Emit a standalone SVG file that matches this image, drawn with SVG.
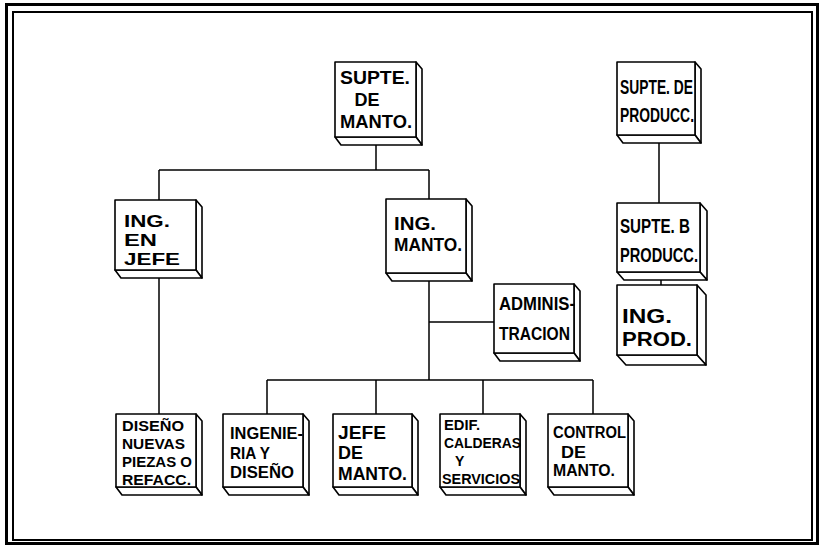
<svg xmlns="http://www.w3.org/2000/svg" width="822" height="546" viewBox="0 0 822 546">
<style>
.frame{fill:none;stroke:#000}
.f{fill:#fff;stroke:#000;stroke-width:1.6;stroke-linejoin:round}
.c{fill:none;stroke:#000;stroke-width:1.5}
text{font-family:"Liberation Sans",Arial,sans-serif;font-weight:bold;fill:#000}
</style>
<rect width="822" height="546" fill="#fff"/>
<rect class="frame" x="6.5" y="4.5" width="811" height="539" stroke-width="3"/>
<rect class="frame" x="13" y="12" width="799" height="528" stroke-width="2"/>

<g id="connectors">
<path class="c" d="M376,145 V170 M159,170 H429 M159,170 V200 M429,170 V199 M159,278 V414 M429,281 V380 M429,322 H494 M267,380 H593 M267,380 V414 M376,380 V414 M483,380 V414 M593,380 V414 M659,143 V203 M661,280 V285"/>
</g>

<g id="supte-manto">
<polygon class="f" points="416,62 422,69 422,145 416,137"/>
<polygon class="f" points="335,137 416,137 422,145 341,145"/>
<rect class="f" x="335" y="62" width="81" height="75"/>
<text x="375" y="84" font-size="18" text-anchor="middle" textLength="70" lengthAdjust="spacingAndGlyphs">SUPTE.</text>
<text x="367" y="106" font-size="18" text-anchor="middle">DE</text>
<text x="376" y="128" font-size="18" text-anchor="middle" textLength="72" lengthAdjust="spacingAndGlyphs">MANTO.</text>
</g>

<g id="supte-prod">
<polygon class="f" points="695,62 701,69 701,143 695,135"/>
<polygon class="f" points="617,135 695,135 701,143 623,143"/>
<rect class="f" x="617" y="62" width="78" height="73"/>
<text x="620" y="94" font-size="21" textLength="73" lengthAdjust="spacingAndGlyphs">SUPTE. DE</text>
<text x="620" y="122" font-size="21" textLength="74" lengthAdjust="spacingAndGlyphs">PRODUCC.</text>
</g>

<g id="ing-jefe">
<polygon class="f" points="196,200 202,207 202,278 196,270"/>
<polygon class="f" points="115,270 196,270 202,278 121,278"/>
<rect class="f" x="115" y="200" width="81" height="70"/>
<text x="124" y="227" font-size="17" textLength="46" lengthAdjust="spacingAndGlyphs">ING.</text>
<text x="124" y="246" font-size="17" textLength="33" lengthAdjust="spacingAndGlyphs">EN</text>
<text x="124" y="265" font-size="17" textLength="56" lengthAdjust="spacingAndGlyphs">JEFE</text>
</g>

<g id="ing-manto">
<polygon class="f" points="466,199 472,206 472,281 466,273"/>
<polygon class="f" points="386,273 466,273 472,281 392,281"/>
<rect class="f" x="386" y="199" width="80" height="74"/>
<text x="394" y="230" font-size="18" textLength="42" lengthAdjust="spacingAndGlyphs">ING.</text>
<text x="394" y="251" font-size="18" textLength="68" lengthAdjust="spacingAndGlyphs">MANTO.</text>
</g>

<g id="administracion">
<polygon class="f" points="574,284 580,291 580,361 574,353"/>
<polygon class="f" points="494,353 574,353 580,361 500,361"/>
<rect class="f" x="494" y="284" width="80" height="69"/>
<text x="499" y="310" font-size="19" textLength="76" lengthAdjust="spacingAndGlyphs">ADMINIS-</text>
<text x="499" y="340" font-size="19" textLength="71" lengthAdjust="spacingAndGlyphs">TRACION</text>
</g>

<g id="supte-b-prod">
<polygon class="f" points="700,203 707,211 707,280 700,272"/>
<polygon class="f" points="617,272 700,272 707,280 624,280"/>
<rect class="f" x="617" y="203" width="83" height="69"/>
<text x="620" y="233" font-size="21" textLength="70" lengthAdjust="spacingAndGlyphs">SUPTE. B</text>
<text x="620" y="262" font-size="21" textLength="78" lengthAdjust="spacingAndGlyphs">PRODUCC.</text>
</g>

<g id="ing-prod">
<polygon class="f" points="697,285 706,295 706,365 697,355"/>
<polygon class="f" points="617,355 697,355 706,365 626,365"/>
<rect class="f" x="617" y="285" width="80" height="70"/>
<text x="622" y="323" font-size="21" textLength="50" lengthAdjust="spacingAndGlyphs">ING.</text>
<text x="622" y="346" font-size="21" textLength="70" lengthAdjust="spacingAndGlyphs">PROD.</text>
</g>

<g id="diseno">
<polygon class="f" points="196,414 202,421 202,495 196,487"/>
<polygon class="f" points="116,487 196,487 202,495 122,495"/>
<rect class="f" x="116" y="414" width="80" height="73"/>
<text x="122" y="431" font-size="15" textLength="62" lengthAdjust="spacingAndGlyphs">DISEÑO</text>
<text x="122" y="449" font-size="15" textLength="63" lengthAdjust="spacingAndGlyphs">NUEVAS</text>
<text x="122" y="467" font-size="15" textLength="70" lengthAdjust="spacingAndGlyphs">PIEZAS O</text>
<text x="122" y="485" font-size="15" textLength="69" lengthAdjust="spacingAndGlyphs">REFACC.</text>
</g>

<g id="ingenieria">
<polygon class="f" points="303,414 309,421 309,495 303,487"/>
<polygon class="f" points="223,487 303,487 309,495 229,495"/>
<rect class="f" x="223" y="414" width="80" height="73"/>
<text x="230" y="439" font-size="17" textLength="73" lengthAdjust="spacingAndGlyphs">INGENIE-</text>
<text x="230" y="459" font-size="17" textLength="40" lengthAdjust="spacingAndGlyphs">RIA Y</text>
<text x="230" y="478" font-size="17" textLength="64" lengthAdjust="spacingAndGlyphs">DISEÑO</text>
</g>

<g id="jefe-manto">
<polygon class="f" points="412,414 418,421 418,495 412,487"/>
<polygon class="f" points="333,487 412,487 418,495 339,495"/>
<rect class="f" x="333" y="414" width="79" height="73"/>
<text x="338" y="439" font-size="18" textLength="48" lengthAdjust="spacingAndGlyphs">JEFE</text>
<text x="338" y="459" font-size="18" textLength="25" lengthAdjust="spacingAndGlyphs">DE</text>
<text x="338" y="480" font-size="18" textLength="69" lengthAdjust="spacingAndGlyphs">MANTO.</text>
</g>

<g id="edif">
<polygon class="f" points="520,414 526,421 526,495 520,487"/>
<polygon class="f" points="440,487 520,487 526,495 446,495"/>
<rect class="f" x="440" y="414" width="80" height="73"/>
<text x="444" y="430" font-size="14" textLength="36" lengthAdjust="spacingAndGlyphs">EDIF.</text>
<text x="444" y="448" font-size="14" textLength="77" lengthAdjust="spacingAndGlyphs">CALDERAS</text>
<text x="455" y="466" font-size="14">Y</text>
<text x="442" y="484" font-size="14" textLength="78" lengthAdjust="spacingAndGlyphs">SERVICIOS</text>
</g>

<g id="control">
<polygon class="f" points="628,414 634,421 634,495 628,487"/>
<polygon class="f" points="548,487 628,487 634,495 554,495"/>
<rect class="f" x="548" y="414" width="80" height="73"/>
<text x="553" y="438" font-size="16" textLength="73" lengthAdjust="spacingAndGlyphs">CONTROL</text>
<text x="561" y="458" font-size="16" textLength="25" lengthAdjust="spacingAndGlyphs">DE</text>
<text x="553" y="476" font-size="16" textLength="62" lengthAdjust="spacingAndGlyphs">MANTO.</text>
</g>
</svg>
